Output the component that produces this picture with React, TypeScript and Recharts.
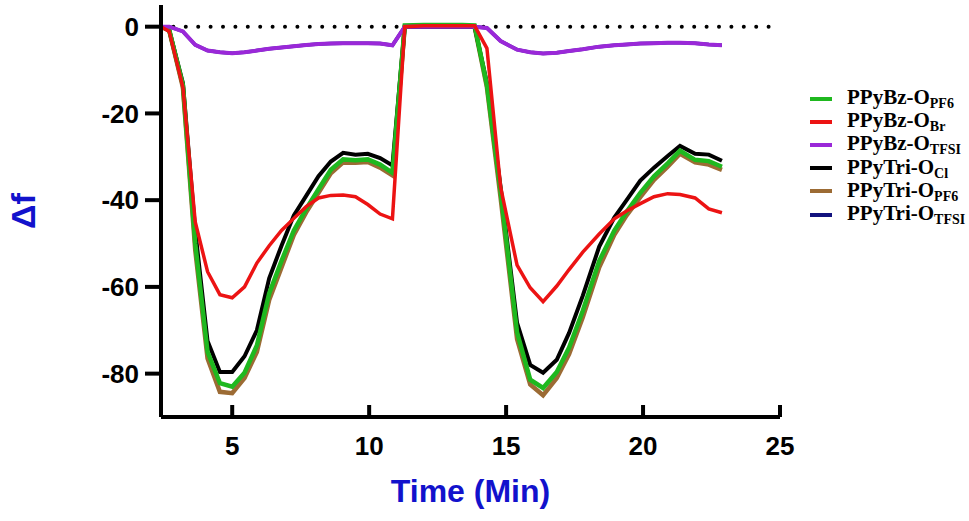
import { LineChart, Line, XAxis, YAxis, ReferenceLine, Legend, Label } from "recharts";

// time in minutes, shared by every curve
const times = [
  2.4, 2.7, 3.2, 3.65, 4.1, 4.55, 5.0, 5.45, 5.9, 6.35, 6.8, 7.25, 7.7, 8.15, 8.6, 9.05, 9.5, 9.95, 10.4, 10.85, 11.3,
  12.0, 12.7, 13.4, 13.85,
  14.3, 14.8, 15.4, 15.88, 16.35, 16.85, 17.3, 17.8, 18.4, 18.95, 19.4, 19.9, 20.4, 20.9, 21.35, 21.9, 22.4, 22.88,
];

const bzPF6 = [
  0, -0.8, -13.5, -50, -75, -82.2, -83, -79.8, -73.5, -61.5, -54, -47, -42, -37.5, -33, -30.6, -30.8, -30.6, -31.8, -33.7, 0.3,
  0.4, 0.4, 0.4, 0.3,
  -13.5, -38, -70.5, -81.4, -83.3, -79.6, -74, -65.5, -54, -47, -42.7, -38.3, -34.5, -31.5, -28.6, -30.7, -31, -32.3,
];
const bzBr = [
  0, -1.1, -14, -45, -56.5, -61.8, -62.5, -60, -54.5, -50.5, -47, -44.2, -41.5, -39.5, -38.9, -38.8, -39.2, -41, -43.2, -44.3, 0,
  0.2, 0.2, 0.2, 0.2,
  -5, -37, -55, -60.2, -63.4, -59.8, -56, -52, -47.8, -44.3, -42.5, -40.8, -39.2, -38.5, -38.7, -39.5, -42, -42.9,
];
const bzTFSI = [
  0, 0, -1.1, -4.2, -5.5, -5.9, -6.1, -5.9, -5.5, -5.1, -4.8, -4.5, -4.2, -4.0, -3.9, -3.8, -3.8, -3.8, -3.9, -4.3, 0,
  0, 0, 0, 0,
  -0.3, -3.3, -5.3, -5.9, -6.2, -6, -5.6, -5.2, -4.6, -4.3, -4.1, -3.9, -3.8, -3.7, -3.7, -3.8, -4.1, -4.3,
];
const triCl = [
  0, -0.8, -13, -47, -72.5, -79.6, -79.6, -76, -70, -58, -50.5, -43.5, -39, -34.5, -31.1, -29.1, -29.5, -29.3, -30.3, -32, 0,
  0, 0, 0, 0,
  -13, -37, -68.3, -78, -79.8, -76.8, -70.6, -62, -50.7, -44, -40, -35.5, -32.5, -29.8, -27.5, -29.3, -29.5, -30.9,
];
const triPF6 = [
  0, -0.8, -14, -51.5, -76.5, -84.2, -84.5, -81, -75, -63, -55.5, -48, -42.8, -38.3, -33.8, -31.3, -31.4, -31.2, -32.5, -34.3, 0,
  0, 0, 0, 0,
  -14, -39.5, -72, -82.5, -85, -81, -75.5, -67, -55.5, -48, -43.5, -39.3, -35.3, -32.3, -29.3, -31.3, -31.8, -33,
];
const triTFSI = [
  0, 0, -1.1, -4.2, -5.5, -5.9, -6.1, -5.9, -5.5, -5.1, -4.8, -4.5, -4.2, -4.0, -3.9, -3.8, -3.8, -3.8, -3.9, -4.3, 0,
  0, 0, 0, 0,
  -0.3, -3.3, -5.3, -5.9, -6.2, -6, -5.6, -5.2, -4.6, -4.3, -4.1, -3.9, -3.8, -3.7, -3.7, -3.8, -4.1, -4.3,
];

const xTicks = [5, 10, 15, 20, 25];
const yTicks = [0, -20, -40, -60, -80];

// drawing order: first is at the bottom
const series = [
  { key: "triTFSI", base: "PPyTri-O", sub: "TFSI", color: "#12127e", width: 3.5 },
  { key: "triPF6", base: "PPyTri-O", sub: "PF6", color: "#9c6b34", width: 4.5 },
  { key: "triCl", base: "PPyTri-O", sub: "Cl", color: "#000000", width: 4 },
  { key: "bzPF6", base: "PPyBz-O", sub: "PF6", color: "#1fb81f", width: 4.5 },
  { key: "bzTFSI", base: "PPyBz-O", sub: "TFSI", color: "#9a28d8", width: 4 },
  { key: "bzBr", base: "PPyBz-O", sub: "Br", color: "#ec1313", width: 3.5 },
];
const legendOrder = ["bzPF6", "bzBr", "bzTFSI", "triCl", "triPF6", "triTFSI"];

const data = times.map((t, i) => ({
  t,
  bzPF6: bzPF6[i],
  bzBr: bzBr[i],
  bzTFSI: bzTFSI[i],
  triCl: triCl[i],
  triPF6: triPF6[i],
  triTFSI: triTFSI[i],
}));

const sans = '"Liberation Sans", Arial, sans-serif';
const blue = "#1212cc";

function renderLegend(props: any) {
  const items = [...(props.payload || [])].sort(
    (a: any, b: any) => legendOrder.indexOf(a.dataKey) - legendOrder.indexOf(b.dataKey)
  );
  return (
    <div style={{ fontFamily: '"Liberation Serif", "Times New Roman", serif', fontWeight: "bold", fontSize: 21, color: "#000" }}>
      {items.map((item: any) => {
        const s = series.find((m) => m.key === item.dataKey)!;
        return (
          <div key={s.key} style={{ display: "flex", alignItems: "center", height: 23.2 }}>
            <span style={{ display: "inline-block", width: 22, height: 4, background: s.color, marginRight: 15 }} />
            <span style={{ whiteSpace: "nowrap", lineHeight: "23px" }}>
              {s.base}
              <span style={{ fontSize: 14, position: "relative", top: 4 }}>{s.sub}</span>
            </span>
          </div>
        );
      })}
    </div>
  );
}

export default function App() {
  return (
    <div style={{ position: "absolute", left: 0, top: 0, width: 969, height: 521, background: "#fff" }}>
      <LineChart width={969} height={521} data={data} margin={{ top: 5, right: 189, bottom: 44, left: 61 }}>
        <XAxis
          dataKey="t"
          type="number"
          domain={[2.4, 25]}
          ticks={xTicks}
          height={60}
          tickSize={-12}
          tickMargin={32}
          axisLine={{ stroke: "#000", strokeWidth: 4 }}
          tickLine={{ stroke: "#000", strokeWidth: 4 }}
          tick={{ fill: "#000", fontSize: 26, fontWeight: "bold", fontFamily: sans }}
        >
          <Label value="Time (Min)" position="bottom" offset={2} fill={blue} fontSize={32} fontWeight="bold" fontFamily={sans} />
        </XAxis>
        <YAxis
          type="number"
          domain={[-90, 5]}
          ticks={yTicks}
          width={100}
          tickSize={16}
          tickMargin={6}
          axisLine={{ stroke: "#000", strokeWidth: 4 }}
          tickLine={{ stroke: "#000", strokeWidth: 4 }}
          tick={{ fill: "#000", fontSize: 26, fontWeight: "bold", fontFamily: sans }}
        >
          <Label value="Δf" angle={-90} position="center" dx={-88} fill={blue} fontSize={34} fontWeight="bold" fontFamily={sans} />
        </YAxis>
        <ReferenceLine y={0} stroke="#000" strokeWidth={4} strokeDasharray="0 12.4" strokeLinecap="round" />
        {series.map((s) => (
          <Line
            key={s.key}
            dataKey={s.key}
            name={s.base + s.sub}
            type="linear"
            stroke={s.color}
            strokeWidth={s.width}
            dot={false}
            activeDot={false}
            isAnimationActive={false}
          />
        ))}
        <Legend
          layout="vertical"
          align="center"
          verticalAlign="middle"
          content={renderLegend}
          wrapperStyle={{ left: 810, top: 87, width: 160 }}
        />
      </LineChart>
    </div>
  );
}
